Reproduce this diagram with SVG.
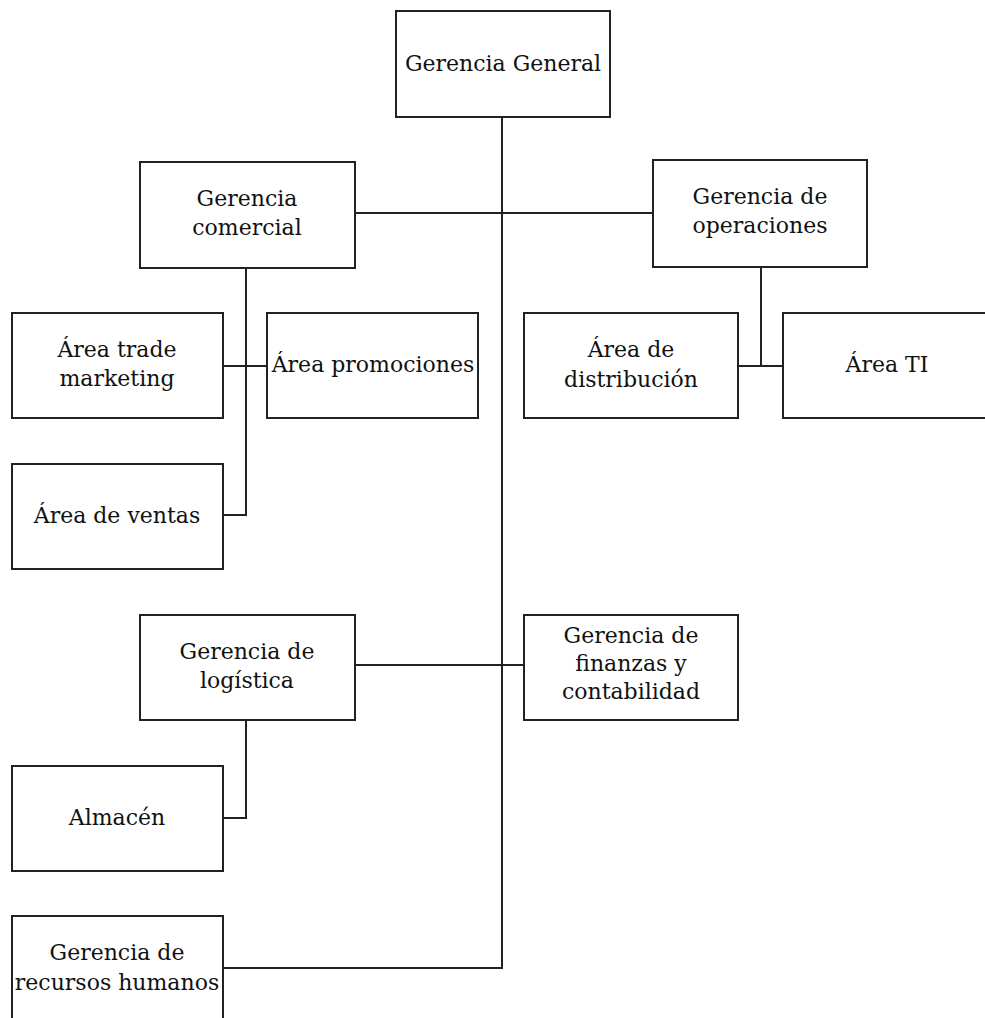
<svg xmlns="http://www.w3.org/2000/svg" width="985" height="1018" viewBox="0 0 985 1018">
<style>
.box{fill:#fff;stroke:#222;stroke-width:2}
.ln{fill:none;stroke:#222;stroke-width:2}
text{font-family:"DejaVu Serif","Liberation Serif",serif;font-size:22px;fill:#111;text-anchor:middle}
</style>
<rect width="985" height="1018" fill="#fff"/>
<g id="connectors">
<path class="ln" d="M502,117 V968 H223"/>
<path class="ln" d="M355,213 H653"/>
<path class="ln" d="M246,268 V515 H223"/>
<path class="ln" d="M223,366 H267"/>
<path class="ln" d="M761,267 V366"/>
<path class="ln" d="M738,366 H783"/>
<path class="ln" d="M355,665 H524"/>
<path class="ln" d="M246,720 V818 H223"/>
</g>
<g id="gerencia-general"><rect class="box" x="396" y="11" width="214" height="106"/><text x="503" y="71">Gerencia General</text></g>
<g id="gerencia-comercial"><rect class="box" x="140" y="162" width="215" height="106"/><text x="247" y="206">Gerencia</text><text x="247" y="235">comercial</text></g>
<g id="gerencia-operaciones"><rect class="box" x="653" y="160" width="214" height="107"/><text x="760" y="204">Gerencia de</text><text x="760" y="233">operaciones</text></g>
<g id="area-trade"><rect class="box" x="12" y="313" width="211" height="105"/><text x="117" y="357">Área trade</text><text x="117" y="386">marketing</text></g>
<g id="area-promociones"><rect class="box" x="267" y="313" width="211" height="105"/><text x="373" y="372">Área promociones</text></g>
<g id="area-distribucion"><rect class="box" x="524" y="313" width="214" height="105"/><text x="631" y="357">Área de</text><text x="631" y="387">distribución</text></g>
<g id="area-ti"><rect class="box" x="783" y="313" width="210" height="105"/><text x="887" y="372">Área TI</text></g>
<g id="area-ventas"><rect class="box" x="12" y="464" width="211" height="105"/><text x="117" y="523">Área de ventas</text></g>
<g id="gerencia-logistica"><rect class="box" x="140" y="615" width="215" height="105"/><text x="247" y="659">Gerencia de</text><text x="247" y="688">logística</text></g>
<g id="gerencia-finanzas"><rect class="box" x="524" y="615" width="214" height="105"/><text x="631" y="643">Gerencia de</text><text x="631" y="671">finanzas y</text><text x="631" y="699">contabilidad</text></g>
<g id="almacen"><rect class="box" x="12" y="766" width="211" height="105"/><text x="117" y="825">Almacén</text></g>
<g id="gerencia-rrhh"><rect class="box" x="12" y="916" width="211" height="120"/><text x="117" y="960">Gerencia de</text><text x="117" y="990">recursos humanos</text></g>
</svg>
